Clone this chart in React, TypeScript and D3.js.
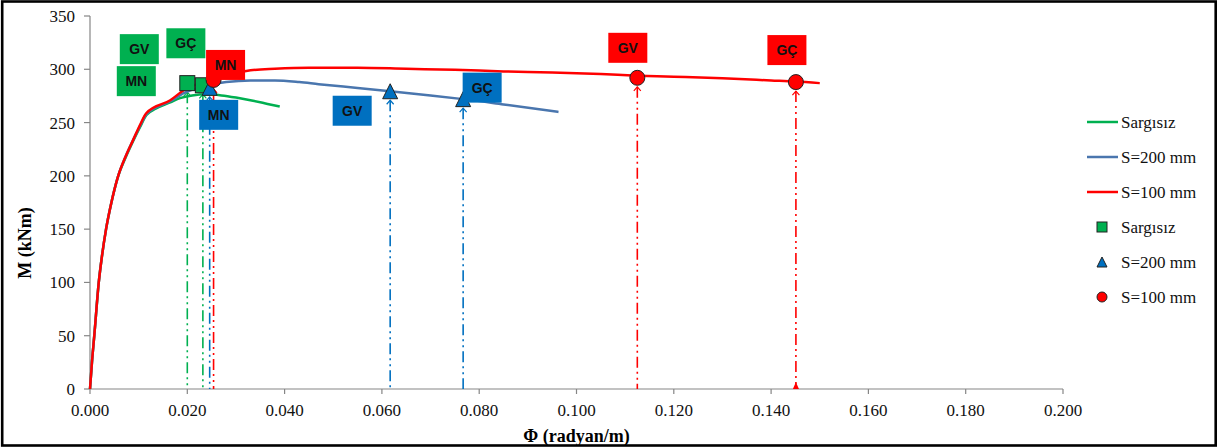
import * as d3 from 'd3'

// moment-curvature curves (phi in rad/m, M in kNm)
const phiSargisiz = [0, 0.0004, 0.00088, 0.0018, 0.00247, 0.0033, 0.0044, 0.0058, 0.0073, 0.0089, 0.0103, 0.0116, 0.0135, 0.0165, 0.0185, 0.021, 0.024, 0.027, 0.030, 0.0335, 0.0365, 0.039]
const mSargisiz = [0, 25, 50, 100, 125, 150, 175, 200, 217, 233, 246, 257, 263, 269, 273, 275.5, 276.5, 275.5, 273.5, 270.5, 267.5, 265]

const phiS200 = [0, 0.0004, 0.00088, 0.0018, 0.00247, 0.0033, 0.0044, 0.0058, 0.0073, 0.0089, 0.0103, 0.0116, 0.0165, 0.0195, 0.0225, 0.0247, 0.028, 0.033, 0.038, 0.043, 0.047, 0.055, 0.0617, 0.07, 0.0767, 0.085, 0.0963]
const mS200 = [0, 25, 50, 100, 125, 150, 175, 200, 218, 234, 247, 258, 270, 278, 283, 285.5, 288, 289.5, 289.5, 288, 286, 282.5, 279.5, 275.5, 272, 267, 260]

const phiS100 = [0, 0.0004, 0.00088, 0.0018, 0.00247, 0.0033, 0.0044, 0.0058, 0.0073, 0.0089, 0.0103, 0.0116, 0.0165, 0.0195, 0.0225, 0.0254, 0.029, 0.033, 0.038, 0.045, 0.055, 0.065, 0.075, 0.085, 0.095, 0.105, 0.1125, 0.12, 0.13, 0.14, 0.145, 0.150]
const mS100 = [0, 25, 50, 100, 125, 150, 175, 200, 218, 234, 248, 259, 271, 281, 287, 291, 295.5, 299, 300.5, 301.5, 301.5, 300.5, 299.5, 298, 297, 295.5, 294, 293, 291.5, 289.5, 288.5, 287]

// performance points (MN / GV / GÇ)
const ptSargisizPhi = [0.0200, 0.0232]
const ptSargisizM = [287, 285]
const ptS200Phi = [0.0246, 0.0617, 0.0767]
const ptS200M = [282.6, 279.4, 272]
const ptS100Phi = [0.0254, 0.1125, 0.1451]
const ptS100M = [290, 292, 288]

const xTicks = [0, 0.02, 0.04, 0.06, 0.08, 0.1, 0.12, 0.14, 0.16, 0.18, 0.2]
const yTicks = [0, 50, 100, 150, 200, 250, 300, 350]

const legendNames = ['Sargısız', 'S=200 mm', 'S=100 mm']

const GREEN = '#00B050'
const BLUE_LINE = '#4A76AE'
const BLUE = '#0070C0'
const RED = '#FF0000'

const W = 1219
const H = 448
const x = d3.scaleLinear().domain([0, 0.2]).range([90, 1063])
const y = d3.scaleLinear().domain([0, 350]).range([389, 16])

const line = d3.line<[number, number]>().x(d => x(d[0])).y(d => y(d[1])).curve(d3.curveMonotoneX)
const zip = (a: number[], b: number[]) => a.map((v, i) => [v, b[i]] as [number, number])

// label boxes: text, which point, centre offset in px
const labels = [
  { text: 'GV', color: GREEN, phi: ptSargisizPhi, m: ptSargisizM, i: 0, dx: -48, dy: -34 },
  { text: 'MN', color: GREEN, phi: ptSargisizPhi, m: ptSargisizM, i: 0, dx: -51, dy: -2 },
  { text: 'GÇ', color: GREEN, phi: ptSargisizPhi, m: ptSargisizM, i: 1, dx: -17, dy: -42 },
  { text: 'MN', color: BLUE, phi: ptS200Phi, m: ptS200M, i: 0, dx: 9, dy: 27 },
  { text: 'GV', color: BLUE, phi: ptS200Phi, m: ptS200M, i: 1, dx: -38, dy: 19.5 },
  { text: 'GÇ', color: BLUE, phi: ptS200Phi, m: ptS200M, i: 2, dx: 19, dy: -11.5 },
  { text: 'MN', color: RED, phi: ptS100Phi, m: ptS100M, i: 0, dx: 12, dy: -15 },
  { text: 'GV', color: RED, phi: ptS100Phi, m: ptS100M, i: 1, dx: -9.5, dy: -30 },
  { text: 'GÇ', color: RED, phi: ptS100Phi, m: ptS100M, i: 2, dx: -9, dy: -32 },
]

const serif = "'Liberation Serif', 'Times New Roman', serif"
const sans = "'Liberation Sans', Arial, sans-serif"
const DASH = '11,4,2,4,2,4'

function DropLines({ phi, m, color }: { phi: number[]; m: number[]; color: string }) {
  return (
    <g>
      {phi.map((p, i) => (
        <g key={i}>
          <line x1={x(p)} x2={x(p)} y1={y(m[i]) + 9} y2={y(0)} stroke={color} strokeWidth={1.6} strokeDasharray={DASH} />
          <path d={`M${x(p) - 3.5},${y(m[i]) + 13}L${x(p)},${y(m[i]) + 9}L${x(p) + 3.5},${y(m[i]) + 13}`} fill="none" stroke={color} strokeWidth={1.2} />
        </g>
      ))}
    </g>
  )
}

const square = (cx: number, cy: number, s: number, k: string | number) => (
  <rect key={k} x={cx - s / 2} y={cy - s / 2} width={s} height={s} fill={GREEN} stroke="#222" strokeWidth={1} />
)
const triangle = (cx: number, cy: number, s: number, k: string | number) => (
  <path key={k} d={`M${cx},${cy - s / 2}L${cx + s / 2},${cy + s / 2}L${cx - s / 2},${cy + s / 2}Z`} fill={BLUE} stroke="#222" strokeWidth={1} />
)
const circle = (cx: number, cy: number, s: number, k: string | number) => (
  <circle key={k} cx={cx} cy={cy} r={s / 2} fill={RED} stroke="#222" strokeWidth={1} />
)

export default function App() {
  const plotRight = x(0.2)
  return (
    <svg width={W} height={H} style={{ position: 'absolute', left: 0, top: 0, background: '#fff' }}>
      <rect x={0} y={0} width={W} height={H} fill="#fff" />

      {/* axes */}
      <line x1={x(0)} x2={x(0)} y1={y(350)} y2={y(0)} stroke="#868686" strokeWidth={1.2} />
      <line x1={x(0)} x2={plotRight} y1={y(0)} y2={y(0)} stroke="#868686" strokeWidth={1.2} />
      {yTicks.map(t => (
        <g key={t}>
          <line x1={x(0) - 6} x2={x(0)} y1={y(t)} y2={y(t)} stroke="#868686" strokeWidth={1.2} />
          <text x={x(0) - 15} y={y(t) + 6} textAnchor="end" fontFamily={serif} fontSize={17} fill="#111">{t}</text>
        </g>
      ))}
      {xTicks.map(t => (
        <g key={t}>
          <line x1={x(t)} x2={x(t)} y1={y(0)} y2={y(0) + 5} stroke="#868686" strokeWidth={1.2} />
          <text x={x(t)} y={416} textAnchor="middle" fontFamily={serif} fontSize={17} fill="#111">{t.toFixed(3)}</text>
        </g>
      ))}
      <text x={(x(0) + plotRight) / 2} y={442} textAnchor="middle" fontFamily={serif} fontSize={18} fontWeight="bold">Φ (radyan/m)</text>
      <text transform={`translate(31,243) rotate(-90)`} textAnchor="middle" fontFamily={serif} fontSize={18} fontWeight="bold">M (kNm)</text>

      {/* drop lines */}
      <DropLines phi={ptSargisizPhi} m={ptSargisizM} color={GREEN} />
      <DropLines phi={ptS200Phi} m={ptS200M} color={BLUE} />
      <DropLines phi={ptS100Phi} m={ptS100M} color={RED} />
      <path d={`M${x(ptS100Phi[2]) - 3},${y(0)}L${x(ptS100Phi[2])},${y(0) - 7}L${x(ptS100Phi[2]) + 3},${y(0)}Z`} fill={RED} />

      {/* curves */}
      <path d={line(zip(phiSargisiz, mSargisiz)) || ''} fill="none" stroke={GREEN} strokeWidth={2.5} strokeLinejoin="round" />
      <path d={line(zip(phiS200, mS200)) || ''} fill="none" stroke={BLUE_LINE} strokeWidth={2.5} strokeLinejoin="round" />
      <path d={line(zip(phiS100, mS100)) || ''} fill="none" stroke={RED} strokeWidth={2.5} strokeLinejoin="round" />

      {/* markers */}
      {ptSargisizPhi.map((p, i) => square(x(p), y(ptSargisizM[i]), 15, 'sq' + i))}
      {ptS200Phi.map((p, i) => triangle(x(p), y(ptS200M[i]), 15, 'tr' + i))}
      {ptS100Phi.map((p, i) => circle(x(p), y(ptS100M[i]), 15, 'ci' + i))}

      {/* labels */}
      {labels.map((l, k) => {
        const cx = x(l.phi[l.i]) + l.dx
        const cy = y(l.m[l.i]) + l.dy
        return (
          <g key={k}>
            <rect x={cx - 19.5} y={cy - 15} width={39} height={30} fill={l.color} />
            <text x={cx} y={cy + 5} textAnchor="middle" fontFamily={sans} fontSize={14} fontWeight="bold" fill="#111">{l.text}</text>
          </g>
        )
      })}

      {/* legend */}
      {[GREEN, BLUE_LINE, RED].map((c, i) => (
        <g key={'ll' + i}>
          <line x1={1087} x2={1118} y1={122 + i * 35} y2={122 + i * 35} stroke={c} strokeWidth={2.5} />
          <text x={1121} y={128 + i * 35} fontFamily={serif} fontSize={17} fill="#111">{legendNames[i]}</text>
        </g>
      ))}
      {[square, triangle, circle].map((f, i) => (
        <g key={'lm' + i}>
          {f(1102, 227 + i * 35, 10, 'm')}
          <text x={1121} y={233 + i * 35} fontFamily={serif} fontSize={17} fill="#111">{legendNames[i]}</text>
        </g>
      ))}

      {/* outer frame */}
      <rect x={2.2} y={1.5} width={1213.5} height={444} fill="none" stroke="#000" strokeWidth={2.6} />
    </svg>
  )
}
